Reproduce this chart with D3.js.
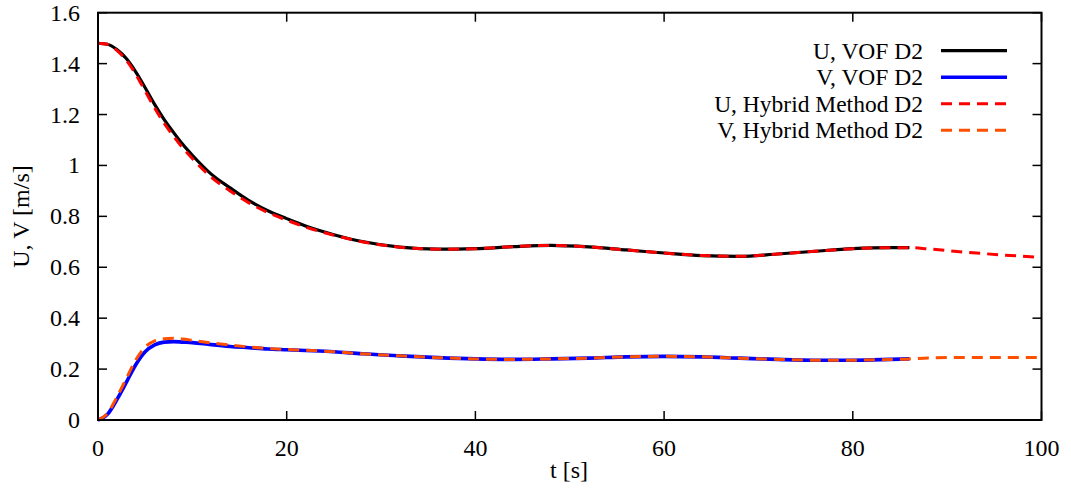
<!DOCTYPE html>
<html><head><meta charset="utf-8">
<script src="https://cdn.jsdelivr.net/npm/d3@7/dist/d3.min.js"></script>
<style>body{margin:0;background:#fff}svg{display:block}text{font-family:"Liberation Serif","Times New Roman",serif;fill:#000}</style>
</head><body><svg id="c" width="1071" height="490"></svg>
<script>
const tVOF = [0,1,2,3,4,5,6,7,8,9,10,12,14,16,18,20,22,25,28,32,36,40,44,48,52,56,60,64,68,72,76,80,84,86];
const tHybrid = [0,1,2,3,4,5,6,7,8,9,10,12,14,16,18,20,22,25,28,32,36,40,44,48,52,56,60,64,68,72,76,80,84,86,88,92,96,100];
const uVOF = [1.48,1.476,1.455,1.42,1.368,1.305,1.24,1.181,1.13,1.082,1.04,0.966,0.912,0.862,0.822,0.791,0.762,0.728,0.701,0.679,0.671,0.673,0.681,0.686,0.680,0.668,0.656,0.646,0.643,0.652,0.663,0.673,0.677,0.677];
const vVOF = [0,0.022,0.08,0.148,0.217,0.268,0.295,0.306,0.308,0.306,0.304,0.296,0.289,0.284,0.279,0.276,0.273,0.268,0.26,0.252,0.245,0.24,0.238,0.24,0.243,0.248,0.25,0.248,0.243,0.238,0.235,0.235,0.238,0.240];
const uHybrid = [1.48,1.476,1.452,1.413,1.358,1.292,1.226,1.166,1.115,1.068,1.027,0.954,0.90,0.853,0.815,0.785,0.758,0.726,0.700,0.679,0.671,0.673,0.681,0.686,0.680,0.668,0.656,0.646,0.643,0.652,0.663,0.673,0.677,0.677,0.672,0.659,0.648,0.639];
const vHybrid = [0,0.026,0.09,0.163,0.236,0.287,0.311,0.319,0.321,0.318,0.313,0.303,0.294,0.287,0.281,0.277,0.274,0.268,0.26,0.252,0.245,0.24,0.238,0.24,0.243,0.248,0.25,0.248,0.243,0.238,0.235,0.235,0.238,0.240,0.244,0.246,0.246,0.245];
const xTicks = [0,20,40,60,80,100];
const yTicks = [0,0.2,0.4,0.6,0.8,1,1.2,1.4,1.6];
const seriesNames = ["U, VOF D2","V, VOF D2","U, Hybrid Method D2","V, Hybrid Method D2"];

const svg = d3.select("#c");
const L=98, R=1041.5, T=12.7, B=420;
const x = d3.scaleLinear().domain([0,100]).range([L,R]);
const y = d3.scaleLinear().domain([0,1.6]).range([B,T]);

const series = [
  {name:seriesNames[0], t:tVOF, v:uVOF, color:"#000000", w:3.2, dash:null},
  {name:seriesNames[1], t:tVOF, v:vVOF, color:"#0000ff", w:3.6, dash:null},
  {name:seriesNames[2], t:tHybrid, v:uHybrid, color:"#ff0000", w:3, dash:"11,7"},
  {name:seriesNames[3], t:tHybrid, v:vHybrid, color:"#ff5000", w:3, dash:"11,7"}
];

const line = d3.line().x(d=>x(d[0])).y(d=>y(d[1])).curve(d3.curveMonotoneX);
series.forEach(s=>{
  svg.append("path").attr("d", line(s.t.map((t,i)=>[t,s.v[i]])))
    .attr("fill","none").attr("stroke",s.color).attr("stroke-width",s.w)
    .attr("stroke-dasharray",s.dash).attr("stroke-linejoin","round");
});

// frame & ticks
const tl = 9;
const g = svg.append("g").attr("stroke","#000").attr("stroke-width",1.5);
xTicks.forEach(t=>{
  g.append("line").attr("x1",x(t)).attr("x2",x(t)).attr("y1",B).attr("y2",B-tl);
  g.append("line").attr("x1",x(t)).attr("x2",x(t)).attr("y1",T).attr("y2",T+tl);
});
yTicks.forEach(v=>{
  g.append("line").attr("x1",L).attr("x2",L+tl).attr("y1",y(v)).attr("y2",y(v));
  g.append("line").attr("x1",R).attr("x2",R-tl).attr("y1",y(v)).attr("y2",y(v));
});
svg.append("rect").attr("x",L).attr("y",T).attr("width",R-L).attr("height",B-T)
  .attr("fill","none").attr("stroke","#000").attr("stroke-width",2);

xTicks.forEach(t=>{
  svg.append("text").attr("x",x(t)).attr("y",456).attr("text-anchor","middle")
    .attr("font-size",24).text(d3.format("d")(t));
});
yTicks.forEach(v=>{
  svg.append("text").attr("x",80).attr("y",y(v)+8).attr("text-anchor","end")
    .attr("font-size",24).text(String(v));
});
svg.append("text").attr("x",569).attr("y",478).attr("text-anchor","middle").attr("font-size",24).text("t [s]");
svg.append("text").attr("transform","translate(29,216.5) rotate(-90)").attr("text-anchor","middle").attr("font-size",24).text("U, V [m/s]");

// legend
series.forEach((s,i)=>{
  const yy = 50.7 + i*26.5;
  svg.append("text").attr("x",923).attr("y",yy+8).attr("text-anchor","end").attr("font-size",23.5).text(s.name);
  svg.append("line").attr("x1",941).attr("x2",1007).attr("y1",yy).attr("y2",yy)
    .attr("stroke",s.color).attr("stroke-width",s.w).attr("stroke-dasharray",s.dash);
});
</script></body></html>
